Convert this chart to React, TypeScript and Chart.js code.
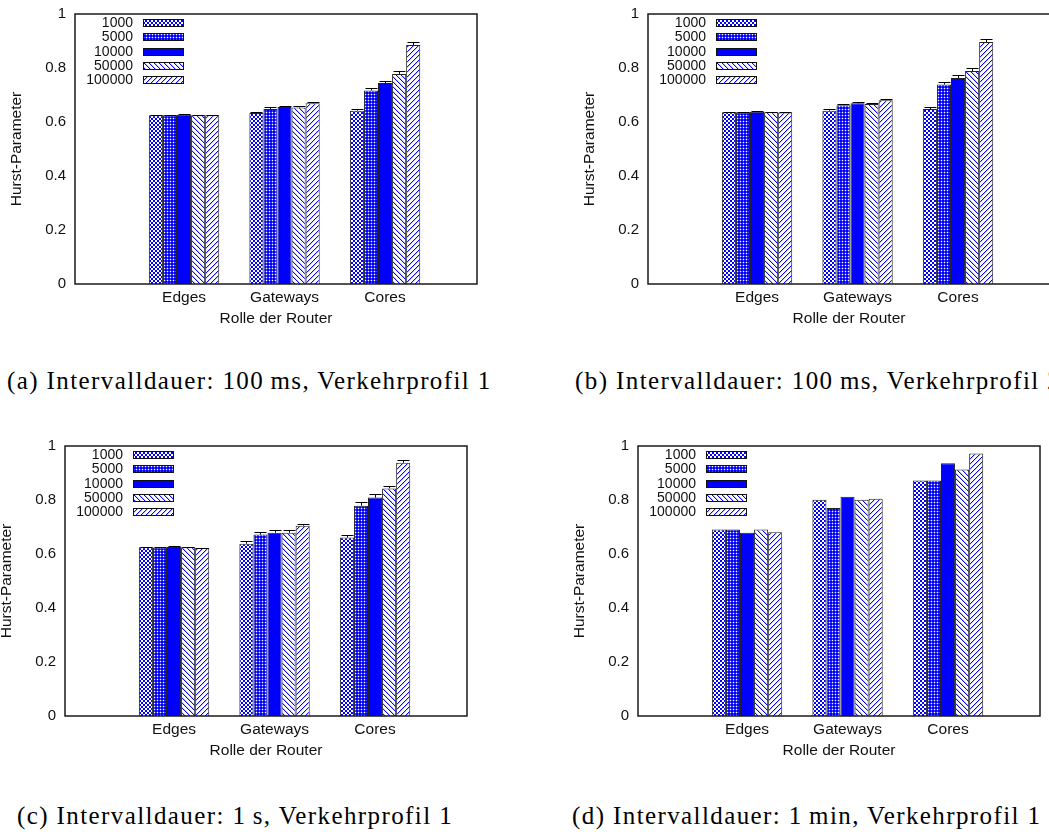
import React, { useEffect, useRef } from 'react';
import { Chart, registerables } from 'chart.js';
Chart.register(...registerables);

const categories = ['Edges', 'Gateways', 'Cores'];
const seriesLabels = ['1000', '5000', '10000', '50000', '100000'];
const yTickStep = 0.2;
const xTitle = 'Rolle der Router';
const yTitle = 'Hurst-Parameter';

// (a) Intervalldauer 100 ms, Verkehrprofil 1
const a1000 = [0.625, 0.633, 0.642];
const a5000 = [0.625, 0.648, 0.717];
const a10000 = [0.627, 0.656, 0.744];
const a50000 = [0.625, 0.654, 0.778];
const a100000 = [0.625, 0.669, 0.885];
const aErr1000 = [0.002, 0.005, 0.005];
const aErr5000 = [0.002, 0.006, 0.009];
const aErr10000 = [0.002, 0.003, 0.009];
const aErr50000 = [0.002, 0.006, 0.01];
const aErr100000 = [0.002, 0.006, 0.012];

// (b)
const b1000 = [0.636, 0.642, 0.648];
const b5000 = [0.636, 0.662, 0.739];
const b10000 = [0.638, 0.669, 0.763];
const b50000 = [0.636, 0.667, 0.789];
const b100000 = [0.635, 0.681, 0.896];
const bErr1000 = [0.002, 0.005, 0.006];
const bErr5000 = [0.002, 0.006, 0.009];
const bErr10000 = [0.002, 0.004, 0.01];
const bErr50000 = [0.002, 0.004, 0.011];
const bErr100000 = [0.002, 0.005, 0.012];

// (c) Intervalldauer 1 s
const c1000 = [0.625, 0.638, 0.661];
const c5000 = [0.624, 0.672, 0.779];
const c10000 = [0.626, 0.679, 0.809];
const c50000 = [0.625, 0.679, 0.843];
const c100000 = [0.622, 0.705, 0.938];
const cErr1000 = [0.002, 0.01, 0.011];
const cErr5000 = [0.002, 0.009, 0.012];
const cErr10000 = [0.002, 0.009, 0.012];
const cErr50000 = [0.002, 0.01, 0.01];
const cErr100000 = [0.002, 0.006, 0.011];

// (d) Intervalldauer 1 min
const d1000 = [0.691, 0.801, 0.872];
const d5000 = [0.691, 0.77, 0.872];
const d10000 = [0.679, 0.812, 0.936];
const d50000 = [0.691, 0.801, 0.913];
const d100000 = [0.681, 0.805, 0.972];

const captionA = '(a) Intervalldauer: 100\u2009ms, Verkehrprofil 1';
const captionB = '(b) Intervalldauer: 100\u2009ms, Verkehrprofil 2';
const captionC = '(c) Intervalldauer: 1\u2009s, Verkehrprofil 1';
const captionD = '(d) Intervalldauer: 1\u2009min, Verkehrprofil 1';

const SANS = '"Liberation Sans", Arial, Helvetica, sans-serif';

function makeTile(size: number, shade: (x: number, y: number) => number): CanvasPattern | string {
  const c = document.createElement('canvas');
  c.width = size;
  c.height = size;
  const g = c.getContext('2d');
  if (!g) return '#00f';
  const img = g.createImageData(size, size);
  for (let y = 0; y < size; y++) {
    for (let x = 0; x < size; x++) {
      const i = (y * size + x) * 4;
      const w = shade(x, y); // 0 = blue, 255 = white
      img.data[i] = w;
      img.data[i + 1] = w;
      img.data[i + 2] = 255;
      img.data[i + 3] = 255;
    }
  }
  g.putImageData(img, 0, 0);
  return g.createPattern(c, 'repeat') || '#00f';
}

function makePatterns(): (CanvasPattern | string)[] {
  return [
    makeTile(4, (x, y) => (((Math.floor(x / 2) + Math.floor(y / 2)) % 2) === 0 ? 0 : 255)),
    makeTile(3, (x, y) => (x === 1 && y === 1 ? 255 : x === 1 || y === 1 ? 60 : 0)),
    '#0000ff',
    makeTile(5, (x, y) => (x === y ? 0 : (x - y + 5) % 5 === 1 ? 200 : 255)),
    makeTile(5, (x, y) => (x + y === 4 ? 0 : (x + y) % 5 === 0 ? 200 : 255)),
  ];
}

const decorPlugin = {
  id: 'decor',
  afterDatasetsDraw(chart: any) {
    const { ctx, chartArea: ca, scales } = chart;
    const ys = scales.y;
    ctx.save();
    // error bars
    ctx.strokeStyle = '#000';
    ctx.lineWidth = 1;
    chart.data.datasets.forEach((ds: any, di: number) => {
      const errs = ds.errors;
      if (!errs) return;
      const meta = chart.getDatasetMeta(di);
      meta.data.forEach((el: any, i: number) => {
        const v = ds.data[i].y;
        const e = errs[i];
        const x = Math.round(el.x) + 0.5;
        const yT = Math.round(ys.getPixelForValue(v + e)) + 0.5;
        const yV = ys.getPixelForValue(v);
        ctx.beginPath();
        ctx.moveTo(x, yV);
        ctx.lineTo(x, yT);
        ctx.moveTo(x - 6, yT);
        ctx.lineTo(x + 6, yT);
        ctx.stroke();
      });
    });
    // frame
    ctx.strokeStyle = '#1a1a1a';
    ctx.lineWidth = 1.5;
    ctx.strokeRect(ca.left, ca.top, ca.right - ca.left, ca.bottom - ca.top);
    // legend
    ctx.font = '14px ' + SANS;
    ctx.textAlign = 'right';
    ctx.textBaseline = 'middle';
    chart.data.datasets.forEach((ds: any, di: number) => {
      const ry = Math.round(ca.top + 9 + di * 14.25);
      ctx.fillStyle = '#111';
      ctx.fillText(ds.label, ca.left + 58, ry + 0.5);
      ctx.fillStyle = ds.backgroundColor;
      ctx.fillRect(ca.left + 68, ry - 4, 41, 8);
      ctx.strokeStyle = '#111';
      ctx.lineWidth = 1;
      ctx.strokeRect(ca.left + 68.5, ry - 3.5, 40, 7);
    });
    ctx.restore();
  },
};

type PanelProps = {
  plotLeft: number;
  plotTop: number;
  values: number[][];
  errors: number[][] | null;
};

const PL = 80;
const PT = 20;
const PW = 402;
const PH = 270;
const PR = 40;
const PB = 60;

function Panel({ plotLeft, plotTop, values, errors }: PanelProps) {
  const ref = useRef<HTMLCanvasElement | null>(null);
  const W = PL + PW + PR;
  const H = PT + PH + PB;
  useEffect(() => {
    if (!ref.current) return;
    const patterns = makePatterns();
    const chart = new Chart(ref.current, {
      type: 'bar',
      data: {
        datasets: seriesLabels.map((lab, s) => ({
          label: lab,
          data: categories.map((_, i) => ({ x: i, y: values[s][i] })),
          backgroundColor: patterns[s] as any,
          borderColor: '#222',
          borderWidth: 1,
          categoryPercentage: 0.7,
          barPercentage: 1,
          errors: errors ? errors[s] : null,
        })) as any,
      },
      options: {
        responsive: false,
        animation: false,
        devicePixelRatio: 1,
        layout: { padding: { left: 0, top: PT, right: PR, bottom: 0 } },
        plugins: { legend: { display: false }, tooltip: { enabled: false } },
        scales: {
          x: {
            type: 'linear',
            min: -1.085,
            max: 2.915,
            offset: false,
            grid: { display: false, drawTicks: false },
            border: { display: false },
            afterBuildTicks: (sc: any) => {
              sc.ticks = categories.map((_, i) => ({ value: i }));
            },
            afterFit: (sc: any) => {
              sc.height = PB;
            },
            ticks: {
              padding: 4,
              color: '#111',
              font: { family: SANS, size: 15.5 },
              callback: (v: any) => categories[Number(v)] ?? '',
            },
            title: {
              display: true,
              text: xTitle,
              color: '#111',
              font: { family: SANS, size: 15.5 },
              padding: { top: 0, bottom: 15.7 },
            },
          },
          y: {
            min: 0,
            max: 1,
            grid: { display: false, drawTicks: false },
            border: { display: false },
            afterFit: (sc: any) => {
              sc.width = PL;
            },
            ticks: {
              stepSize: yTickStep,
              padding: 9,
              color: '#111',
              font: { family: SANS, size: 15 },
              callback: (v: any) => String(Number(Number(v).toFixed(1))),
            },
            title: {
              display: true,
              text: yTitle,
              color: '#111',
              font: { family: SANS, size: 15.5 },
              padding: { top: 12.7, bottom: 0 },
            },
          },
        },
      } as any,
      plugins: [decorPlugin],
    });
    return () => chart.destroy();
  }, []);
  return (
    <canvas
      ref={ref}
      width={W}
      height={H}
      style={{ position: 'absolute', left: plotLeft - PL, top: plotTop - PT, width: W, height: H }}
    />
  );
}

const captionStyle: React.CSSProperties = {
  position: 'absolute',
  fontFamily: '"Liberation Serif", "Times New Roman", serif',
  fontSize: 25,
  letterSpacing: '1.4px',
  lineHeight: '25px',
  whiteSpace: 'nowrap',
  color: '#000',
};

export default function App() {
  return (
    <div
      style={{
        position: 'absolute',
        left: 0,
        top: 0,
        width: 1049,
        height: 832,
        overflow: 'hidden',
        background: '#fff',
      }}
    >
      <Panel
        plotLeft={75}
        plotTop={14}
        values={[a1000, a5000, a10000, a50000, a100000]}
        errors={[aErr1000, aErr5000, aErr10000, aErr50000, aErr100000]}
      />
      <Panel
        plotLeft={648}
        plotTop={14}
        values={[b1000, b5000, b10000, b50000, b100000]}
        errors={[bErr1000, bErr5000, bErr10000, bErr50000, bErr100000]}
      />
      <Panel
        plotLeft={65}
        plotTop={446}
        values={[c1000, c5000, c10000, c50000, c100000]}
        errors={[cErr1000, cErr5000, cErr10000, cErr50000, cErr100000]}
      />
      <Panel
        plotLeft={638}
        plotTop={446}
        values={[d1000, d5000, d10000, d50000, d100000]}
        errors={null}
      />
      <div style={{ ...captionStyle, left: 7, top: 368 }}>{captionA}</div>
      <div style={{ ...captionStyle, left: 575, top: 368 }}>{captionB}</div>
      <div style={{ ...captionStyle, left: 17, top: 803 }}>{captionC}</div>
      <div style={{ ...captionStyle, left: 572, top: 803 }}>{captionD}</div>
    </div>
  );
}
